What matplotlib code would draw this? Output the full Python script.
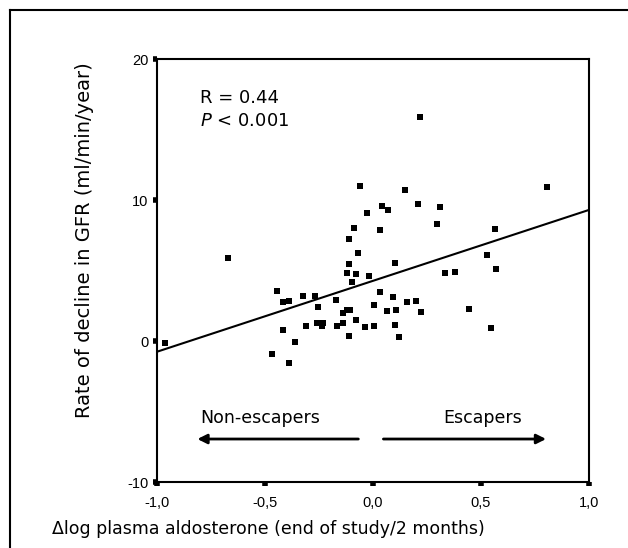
import numpy as np
import matplotlib.pyplot as plt
from matplotlib.lines import Line2D

# change in log plasma aldosterone vs yearly GFR decline
log_aldo = [-0.961, -0.670, -0.446, -0.415, -0.390, -0.323, -0.267, -0.173, -0.253,
            -0.415, -0.469, -0.390, -0.360, -0.310, -0.261, -0.233, -0.236, -0.167,
            -0.137, -0.137, -0.122, -0.106, -0.111, -0.080, -0.037, 0.006, 0.006,
            0.031, 0.065, -0.019, -0.099, -0.122, -0.080, -0.111, -0.068, -0.111,
            -0.086, -0.026, -0.062, 0.042, 0.069, 0.031,
            0.218, 0.150, 0.210, 0.309, 0.298, 0.806, 0.563, 0.528, 0.571, 0.335,
            0.378, 0.100, 0.093, 0.156, 0.199, 0.106, 0.222, 0.446, 0.100, 0.119,
            0.545]
gfr_decline = [-0.14, 5.91, 3.57, 2.77, 2.84, 3.21, 3.21, 2.93, 2.39,
               0.76, -0.95, -1.56, -0.05, 1.06, 1.30, 1.30, 1.06, 1.06,
               1.30, 2.01, 2.20, 2.20, 0.33, 1.49, 0.97, 1.06, 2.57,
               3.45, 2.10, 4.63, 4.21, 4.82, 4.73, 5.44, 6.26, 7.23,
               8.04, 9.05, 11.02, 9.60, 9.29, 7.85,
               15.86, 10.73, 9.74, 9.50, 8.30, 10.92, 7.97, 6.07, 5.08, 4.82,
               4.89, 5.53, 3.10, 2.77, 2.84, 2.22, 2.03, 2.29, 1.11, 0.31,
               0.95]

# regression line
fit_slope = 5.03
fit_intercept = 4.27

x_ticks = [-1.0, -0.5, 0.0, 0.5, 1.0]
x_tick_labels = ['-1,0', '-0,5', '0,0', '0,5', '1,0']
y_ticks = [-10, 0, 10, 20]
y_tick_labels = ['-10', '0', '10', '20']

fig = plt.figure(figsize=(6.28, 5.48), dpi=100)
ax = fig.add_axes([0.250, 0.1204, 0.688, 0.7719])

ax.scatter(log_aldo, gfr_decline, marker='s', s=22, color='black', linewidths=0)

xl = np.array([-1.0, 1.0])
ax.plot(xl, fit_intercept + fit_slope * xl, color='black', lw=1.5)

ax.set_xlim(-1.0, 1.0)
ax.set_ylim(-10, 20)
ax.set_xticks(x_ticks)
ax.set_xticklabels(x_tick_labels, fontfamily='Liberation Sans', fontsize=10.5)
ax.set_yticks(y_ticks)
ax.set_yticklabels(y_tick_labels, fontfamily='Liberation Sans', fontsize=10.5)
ax.tick_params(length=3, width=4)
ax.tick_params(axis='x', pad=7)
ax.tick_params(axis='y', pad=3)
for s in ax.spines.values():
    s.set_linewidth(1.5)

ax.text(-0.8, 17.2, 'R = 0.44', fontsize=13, va='center')
ax.text(-0.8, 15.6, r'$\it{P}$ < 0.001', fontsize=13, va='center')

arrow = dict(arrowstyle='-|>', color='black', lw=2, mutation_scale=14, shrinkA=0, shrinkB=0)
ax.annotate('', xy=(-0.813, -6.95), xytext=(-0.068, -6.95), arrowprops=arrow)
ax.annotate('', xy=(0.801, -6.95), xytext=(0.048, -6.95), arrowprops=arrow)
ax.text(-0.523, -5.46, 'Non-escapers', fontsize=12.5, ha='center', va='center')
ax.text(0.509, -5.46, 'Escapers', fontsize=12.5, ha='center', va='center')

fig.text(85 / 628, 1 - 240 / 548, 'Rate of decline in GFR (ml/min/year)',
         rotation=90, ha='center', va='center', fontsize=14)
fig.text(268 / 628, 1 - 529 / 548, '\u0394log plasma aldosterone (end of study/2 months)',
         ha='center', va='center', fontsize=12.5)

# outer panel border (left and top edges)
fig.add_artist(Line2D([10 / 628, 10 / 628], [0, 1 - 10 / 548], color='black', lw=1.5))
fig.add_artist(Line2D([10 / 628, 1], [1 - 10 / 548, 1 - 10 / 548], color='black', lw=1.5))

fig.savefig('out.png', dpi=100)
